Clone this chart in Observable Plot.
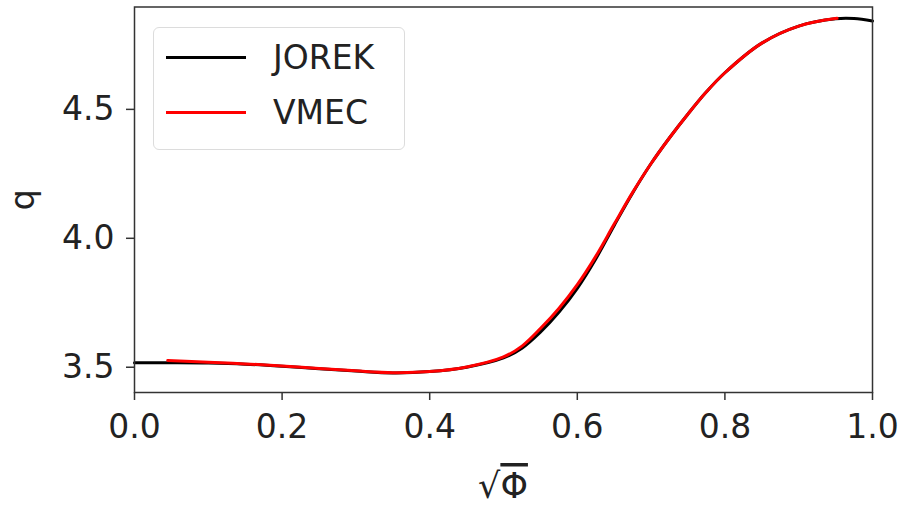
<!DOCTYPE html>
<html>
<head>
<meta charset="utf-8">
<script src="https://cdn.jsdelivr.net/npm/d3@7"></script>
<script src="https://cdn.jsdelivr.net/npm/@observablehq/plot@0.6"></script>
<style>
  body { margin: 0; background: #fff; }
  #wrap { position: relative; width: 902px; height: 506px; font-family: "DejaVu Sans", sans-serif; }
  .legend { position: absolute; left: 153px; top: 27px; width: 252px; height: 123px;
    border: 1.5px solid #dcdcdc; border-radius: 6px; background: rgba(255,255,255,0.85); box-sizing: border-box; }
  .row { position: absolute; left: 0; height: 40px; width: 100%; }
  .row .swatch { position: absolute; left: 12px; top: 18px; width: 80px; height: 3px; }
  .row .lab { position: absolute; left: 119px; top: 0; font-size: 33px; line-height: 40px; color: #222; }
</style>
</head>
<body>
<div id="wrap"></div>
<script>
// JOREK series
const sqrtPhiJorek = [0, 0.05, 0.1, 0.15, 0.2, 0.25, 0.3, 0.35, 0.4, 0.45, 0.5, 0.525, 0.55, 0.575, 0.6, 0.625, 0.65, 0.675, 0.7, 0.725, 0.75, 0.775, 0.8, 0.85, 0.9, 0.95, 0.975, 1.0];
const qJorek       = [3.517, 3.517, 3.516, 3.512, 3.504, 3.494, 3.485, 3.478, 3.483, 3.500, 3.536, 3.574, 3.636, 3.713, 3.806, 3.920, 4.050, 4.176, 4.290, 4.390, 4.482, 4.568, 4.642, 4.757, 4.823, 4.851, 4.852, 4.843];
// VMEC series
const sqrtPhiVmec = [0.045, 0.1, 0.15, 0.2, 0.25, 0.3, 0.35, 0.4, 0.45, 0.5, 0.525, 0.55, 0.575, 0.6, 0.625, 0.65, 0.675, 0.7, 0.725, 0.75, 0.775, 0.8, 0.85, 0.9, 0.952];
const qVmec       = [3.526, 3.519, 3.513, 3.505, 3.495, 3.486, 3.479, 3.483, 3.501, 3.540, 3.582, 3.650, 3.728, 3.820, 3.930, 4.055, 4.178, 4.290, 4.390, 4.482, 4.568, 4.642, 4.757, 4.823, 4.853];
// axes
const xTicks = [0, 0.2, 0.4, 0.6, 0.8, 1.0];
const yTicks = [3.5, 4.0, 4.5];
const xDomain = [0, 1];
const yDomain = [3.402, 4.897];
const seriesNames = ["JOREK", "VMEC"];
const seriesColors = ["black", "red"];

const jorek = sqrtPhiJorek.map((x, i) => ({x, q: qJorek[i]}));
const vmec = sqrtPhiVmec.map((x, i) => ({x, q: qVmec[i]}));

const fmt = d3.format(".1f");
const chart = Plot.plot({
  width: 902, height: 506,
  marginLeft: 134, marginRight: 30, marginTop: 6.5, marginBottom: 114,
  x: {domain: xDomain},
  y: {domain: yDomain},
  style: {fontFamily: "DejaVu Sans, sans-serif", fontSize: "33px", color: "#222", background: "white", overflow: "visible"},
  marks: [
    Plot.axisX({ticks: xTicks, tickFormat: fmt, tickSize: 8, tickPadding: 14, fontSize: 33, stroke: "#333", strokeWidth: 1.5, label: null}),
    Plot.axisY({ticks: yTicks, tickFormat: fmt, tickSize: 8, tickPadding: 12, fontSize: 33, stroke: "#333", strokeWidth: 1.5,
      label: "q", labelAnchor: "center", labelArrow: "none", labelOffset: 124}),
    Plot.line(jorek, {x: "x", y: "q", stroke: seriesColors[0], strokeWidth: 3, curve: "catmull-rom"}),
    Plot.line(vmec, {x: "x", y: "q", stroke: seriesColors[1], strokeWidth: 3, curve: "catmull-rom"}),
    Plot.frame({stroke: "#333", strokeWidth: 1.5})
  ]
});
const wrap = document.getElementById("wrap");
wrap.appendChild(chart);

// x-axis label: sqrt(Phi) with overline over Phi
const svg = d3.select(chart);
const t = svg.append("text")
  .attr("x", 503).attr("y", 498)
  .attr("text-anchor", "middle")
  .attr("font-family", "DejaVu Sans, sans-serif")
  .attr("font-size", 35)
  .attr("fill", "#222");
t.append("tspan").text("√");
t.append("tspan").attr("style", "text-decoration: overline").text("Φ");

// legend
const leg = document.createElement("div");
leg.className = "legend";
seriesNames.forEach((name, i) => {
  const row = document.createElement("div");
  row.className = "row";
  row.style.top = (10 + i * 55) + "px";
  const sw = document.createElement("div");
  sw.className = "swatch";
  sw.style.background = seriesColors[i];
  const lab = document.createElement("div");
  lab.className = "lab";
  lab.textContent = name;
  row.appendChild(sw); row.appendChild(lab);
  leg.appendChild(row);
});
wrap.appendChild(leg);
</script>
</body>
</html>
